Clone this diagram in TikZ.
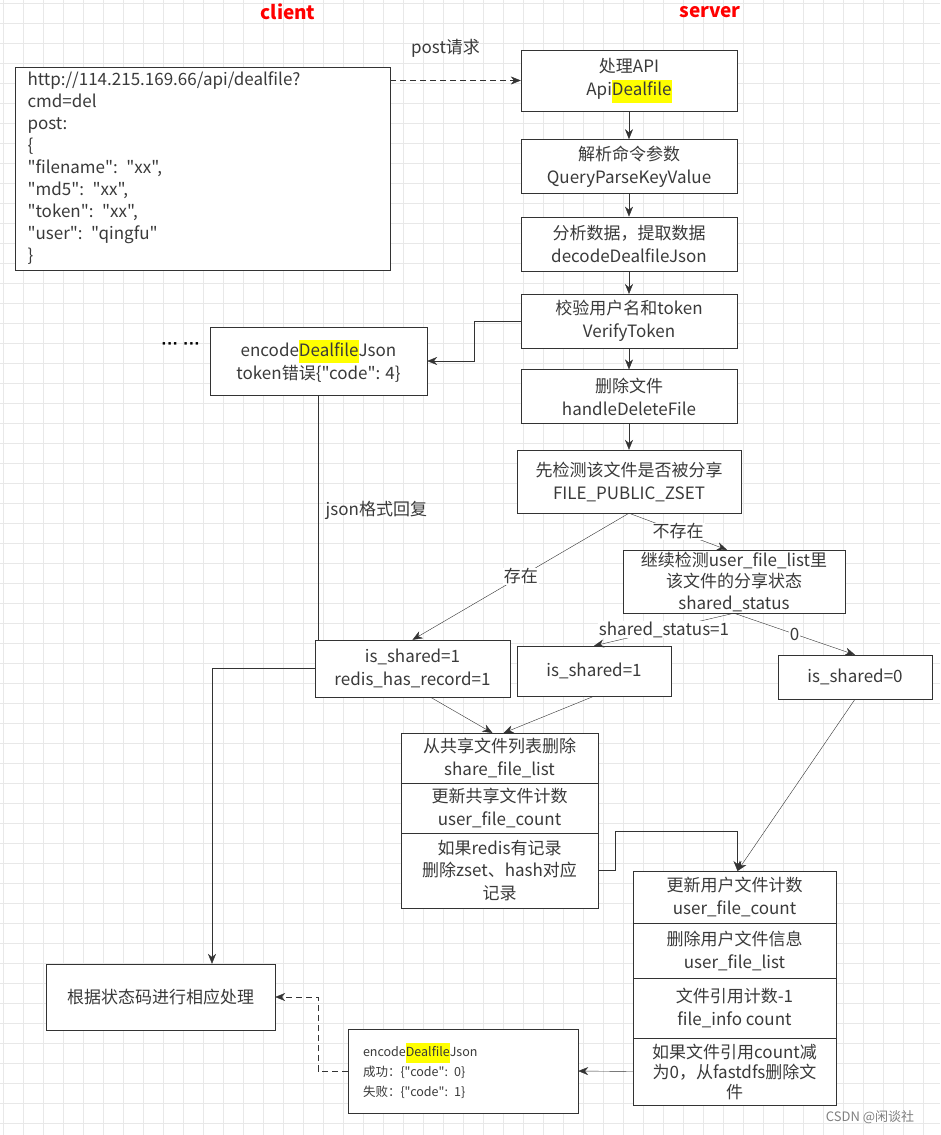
\documentclass[tikz,border=0pt]{standalone}
\usepackage{fontspec}
\setmainfont{Noto Sans CJK SC}[Ligatures=TeXOff]
\newfontfamily\dotfont{Liberation Sans}
\usetikzlibrary{positioning,arrows.meta}
\definecolor{linec}{HTML}{333333}
\definecolor{textc}{HTML}{3A3A3A}
\definecolor{gridc}{HTML}{E8E8E8}
\definecolor{titlec}{HTML}{FF0000}
\definecolor{hlc}{HTML}{FFFF00}
\newcommand{\hlt}[1]{{\setlength{\fboxsep}{0pt}\colorbox{hlc}{\strut#1}}}
\pgfdeclarelayer{background}
\pgfsetlayers{background,main}

\begin{document}
\begin{tikzpicture}[x=1pt,y=-1pt,node distance=23pt,>={Stealth[length=10pt,width=8pt]},line width=1.3pt]
    \tikzstyle{box}=[rectangle, draw=linec, fill=white, text=textc, minimum width=216pt, minimum height=54pt, align=center, inner sep=1pt, font=\fontsize{17}{23}\selectfont]
    \tikzstyle{part}=[box, outer sep=0pt]
    \tikzstyle{lbl}=[text=textc, fill=white, inner sep=1pt, font=\fontsize{17}{23}\selectfont]
    \tikzstyle{sidetitle}=[text=titlec, font=\fontsize{19}{23}\selectfont\bfseries]
    \tikzstyle{link}=[draw=linec, ->]
    \useasboundingbox (0,0) rectangle (940,1135);

    % grid paper
    \begin{pgfonlayer}{background}
    \fill[white] (0,0) rectangle (940,1135);
    \foreach \gx in {3,23,...,940} \draw[gridc, line width=0.8pt] (\gx,0) -- (\gx,1135);
    \foreach \gy in {3,23,...,1135} \draw[gridc, line width=0.8pt] (0,\gy) -- (940,\gy);
    \end{pgfonlayer}

    \node[sidetitle] (client) at (288,12) {client};
    \node[sidetitle] (server) at (710,12) {server};

    % client request
    \node[box, minimum width=375pt, minimum height=203pt, align=left, text width=350pt, font=\fontsize{17}{22}\selectfont] (req) at (202.5,168.5)
        {http://114.215.169.66/api/dealfile?\\cmd=del\\post:\\\{\\"filename": "xx",\\"md5": "xx",\\"token": "xx",\\"user": "qingfu"\\\}};

    % server column
    \node[box, minimum height=61pt] (api) at (629,80.5) {处理API\\Api\hlt{Dealfile}};
    \node[box, below=28pt of api] (parse) {解析命令参数\\QueryParseKeyValue};
    \node[box, below=of parse] (decode) {分析数据，提取数据\\decodeDealfileJson};
    \node[box, below=of decode] (verify) {校验用户名和token\\VerifyToken};
    \node[box, below=21pt of verify] (del) {删除文件\\handleDeleteFile};
    \node[box, below=26pt of del, minimum width=224pt, minimum height=63pt] (zset) {先检测该文件是否被分享\\FILE\_PUBLIC\_ZSET};

    \node[box, minimum width=217pt, minimum height=68pt] (tok) at (318.5,361) {encode\hlt{Dealfile}Json\\token错误\{"code": 4\}};
    \node[text=black, font=\fontsize{17}{23}\dotfont\bfseries] (more) at (181,346) {··· ···};

    \node[box, minimum width=222pt, minimum height=63pt, font=\fontsize{17}{21.5}\selectfont] (usercheck) at (734,581.5) {继续检测user\_file\_list里\\该文件的分享状态\\shared\_status};
    \node[box, minimum width=195pt, minimum height=57pt] (redis) at (412.5,668.5) {is\_shared=1\\redis\_has\_record=1};
    \node[box, minimum width=154pt, minimum height=50pt] (shareone) at (594,671) {is\_shared=1};
    \node[box, minimum width=154pt, minimum height=44pt] (sharezero) at (855,677) {is\_shared=0};

    % shared file steps
    \node[part, minimum width=197pt, minimum height=50pt] (pubdel) at (499.5,758) {从共享文件列表删除\\share\_file\_list};
    \node[part, minimum width=197pt, minimum height=50pt, below=0pt of pubdel] (pubcount) {更新共享文件计数\\user\_file\_count};
    \node[part, minimum width=197pt, minimum height=75pt, below=0pt of pubcount, font=\fontsize{17}{22.5}\selectfont] (pubredis) {如果redis有记录\\删除zset、hash对应\\记录};

    % user file steps
    \node[part, minimum width=203pt, minimum height=52pt] (usrcount) at (734.5,897) {更新用户文件计数\\user\_file\_count};
    \node[part, minimum width=203pt, minimum height=55pt, below=0pt of usrcount] (usrlist) {删除用户文件信息\\user\_file\_list};
    \node[part, minimum width=203pt, minimum height=60pt, below=0pt of usrlist] (refcount) {文件引用计数-1\\file\_info count};
    \node[part, minimum width=203pt, minimum height=67pt, below=0pt of refcount, font=\fontsize{17}{20}\selectfont] (fdfs) {如果文件引用count减\\为0，从fastdfs删除文\\件};

    \node[box, minimum width=229pt, minimum height=66pt] (final) at (160.5,997) {根据状态码进行相应处理};
    \node[box, minimum width=230pt, minimum height=84pt, align=left, text width=200pt, font=\fontsize{12.5}{20}\selectfont] (reply) at (463,1071) {encode\hlt{Dealfile}Json\\成功：\{"code": 0\}\\失败：\{"code": 1\}};

    \node[text=gray, font=\fontsize{13}{15}\selectfont] (mark) at (870,1117) {CSDN @闲谈社};

    % connectors
    \draw[link, dash pattern=on 6pt off 4pt] (req.east |- api.west) -- node[lbl, above=22pt, xshift=-10pt, fill=none] {post请求} (api.west);
    \foreach \a/\b in {api/parse,parse/decode,decode/verify,verify/del,del/zset}
        \draw[link] (\a) -- (\b);
    \draw[link] (verify.west) -- ++(-47,0) |- (tok.east);
    \begin{pgfonlayer}{background}
    \draw[link] (tok.south) -- node[lbl, pos=0.42, right=6pt, fill=none] {json格式回复} (tok.south |- redis.west) -| ([xshift=51.5pt]final.north);
    \end{pgfonlayer}
    \draw[link] (zset.south) -- node[lbl] {存在} (redis.north);
    \draw[link] (zset.south) -- node[lbl] {不存在} ([xshift=-7pt]usercheck.north);
    \draw[link] (usercheck.south) -- node[lbl] {shared\_status=1} (shareone.north);
    \draw[link] (usercheck.south) -- node[lbl] {0} (sharezero.north);
    \draw[link] ([xshift=18pt]redis.south) -- ([xshift=-7pt]pubdel.north);
    \draw[link] (shareone.south) -- ([xshift=4pt]pubdel.north);
    \draw[link] (sharezero.south) -- ([xshift=3pt]usrcount.north);
    \draw[link] (pubredis.east) -- ++(17,0) |- ([xshift=3pt,yshift=40pt]usrcount.north) -- ([xshift=3pt]usrcount.north);
    \draw[link] (fdfs.west) -- (reply.east);
    \draw[link, dash pattern=on 6pt off 4pt] (reply.west) -- ++(-30,0) |- (final.east);
\end{tikzpicture}
\end{document}
